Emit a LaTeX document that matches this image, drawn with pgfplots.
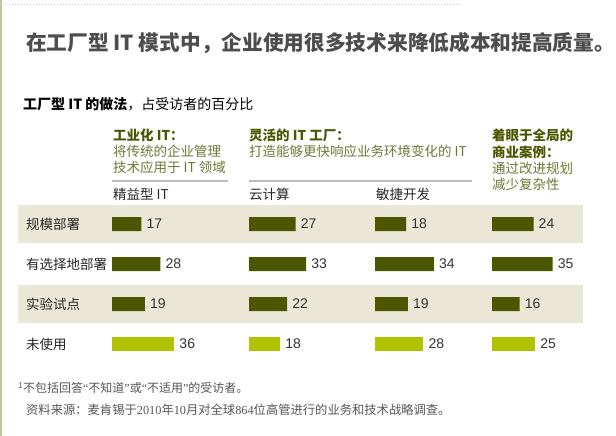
\documentclass[border=0pt]{standalone}
\usepackage{pgfplots}
\pgfplotsset{compat=1.18}
\usepackage{fontspec}
\setmainfont{Noto Sans CJK SC}
\newfontfamily\num{Liberation Sans}
\newfontfamily\serifnum{Liberation Serif}
\definecolor{darkolive}{HTML}{4A5600}
\definecolor{lightolive}{HTML}{B0C200}
\definecolor{hdrolive}{HTML}{4A5600}
\definecolor{hdrlight}{HTML}{6E7835}
\definecolor{band}{HTML}{EBE7D7}
\definecolor{titlegray}{HTML}{4D4D4D}
\definecolor{numgray}{HTML}{333333}
\definecolor{rulegray}{HTML}{BBBBBB}
\definecolor{footgray}{HTML}{555555}
\definecolor{edge}{HTML}{C8C1A6}
\newcommand{\fs}[1]{\fontsize{#1}{#1}\selectfont}
\pgfplotsset{colaxis/.style={anchor=north west, x=1.73pt, y=40pt, y dir=reverse,
  xmin=0, xmax=40, ymin=-0.5, ymax=3.5, hide axis, xbar, bar width=14pt, bar shift=0pt,
  clip=false,
  nodes near coords={\pgfmathprintnumber[assume math mode=true]{\pgfplotspointmeta}},
  every node near coord/.append style={font=\num\fs{14}, text=numgray, anchor=west, inner sep=0pt, xshift=5pt}}}
\begin{document}
\begin{tikzpicture}
\path[use as bounding box] (0,0) rectangle (616pt,-436pt);
\fill[edge] (0,0) rectangle (1.5pt,-436pt);
\draw[black!20, dotted, line width=1pt] (0,-5pt) -- (460pt,-5pt);
\fill[band] (18pt,-205pt) rectangle (583pt,-243pt);
\fill[band] (18pt,-285pt) rectangle (583pt,-323pt);
% title
\node[anchor=west, inner sep=0pt, text=titlegray, font=\bfseries\fs{20.7}] at (26pt,-43pt) {在工厂型 IT 模式中，企业使用很多技术来降低成本和提高质量。};
\node[anchor=west, inner sep=0pt, font=\fs{14}] at (23pt,-104pt) {\textbf{工厂型 IT 的做法}，占受访者的百分比};
% headers
\begin{scope}[every node/.style={anchor=west, inner sep=0pt, font=\fs{13.5}}]
\node[text=hdrolive, font=\bfseries\fs{13.5}] at (113pt,-135pt) {工业化 IT：};
\node[text=hdrlight] at (113pt,-151pt) {将传统的企业管理};
\node[text=hdrlight] at (113pt,-167pt) {技术应用于 IT 领域};
\node[text=hdrolive, font=\bfseries\fs{13.5}] at (249pt,-135pt) {灵活的 IT 工厂：};
\node[text=hdrlight] at (249pt,-151pt) {打造能够更快响应业务环境变化的 IT};
\node[text=hdrolive, font=\bfseries\fs{13.5}] at (492pt,-135pt) {着眼于全局的};
\node[text=hdrolive, font=\bfseries\fs{13.5}] at (492pt,-152pt) {商业案例：};
\node[text=hdrlight] at (492pt,-168pt) {通过改进规划};
\node[text=hdrlight] at (492pt,-184pt) {减少复杂性};
\node[text=black!85] at (113pt,-194pt) {精益型 IT};
\node[text=black!85] at (249pt,-194pt) {云计算};
\node[text=black!85] at (376pt,-194pt) {敏捷开发};
\node[text=black!85] at (26pt,-224pt) {规模部署};
\node[text=black!85] at (26pt,-264pt) {有选择地部署};
\node[text=black!85] at (26pt,-304pt) {实验试点};
\node[text=black!85] at (26pt,-344pt) {未使用};
\end{scope}
\draw[rulegray, line width=1.8pt] (112pt,-181pt) -- (228pt,-181pt);
\draw[rulegray, line width=1.8pt] (249pt,-181pt) -- (472pt,-181pt);
% footnotes
\node[anchor=west, inner sep=0pt, text=footgray, font=\fs{12}] at (18pt,-388pt) {\textsuperscript{1}不包括回答{\serifnum “}不知道{\serifnum ”}或{\serifnum “}不适用{\serifnum ”}的受访者。};
\node[anchor=west, inner sep=0pt, text=footgray, font=\fs{12.3}] at (26pt,-410pt) {资料来源：麦肯锡于{\serifnum 2010}年{\serifnum 10}月对全球{\serifnum 864}位高管进行的业务和技术战略调查。};
% bars
\begin{axis}[colaxis, at={(112pt,-204pt)}]
\addplot[fill=darkolive, draw=none] coordinates {(17,0) (28,1) (19,2)};
\addplot[fill=lightolive, draw=none] coordinates {(36,3)};
\end{axis}
\begin{axis}[colaxis, at={(249pt,-204pt)}]
\addplot[fill=darkolive, draw=none] coordinates {(27,0) (33,1) (22,2)};
\addplot[fill=lightolive, draw=none] coordinates {(18,3)};
\end{axis}
\begin{axis}[colaxis, at={(375pt,-204pt)}]
\addplot[fill=darkolive, draw=none] coordinates {(18,0) (34,1) (19,2)};
\addplot[fill=lightolive, draw=none] coordinates {(28,3)};
\end{axis}
\begin{axis}[colaxis, at={(492pt,-204pt)}]
\addplot[fill=darkolive, draw=none] coordinates {(24,0) (35,1) (16,2)};
\addplot[fill=lightolive, draw=none] coordinates {(25,3)};
\end{axis}
\end{tikzpicture}
\end{document}
